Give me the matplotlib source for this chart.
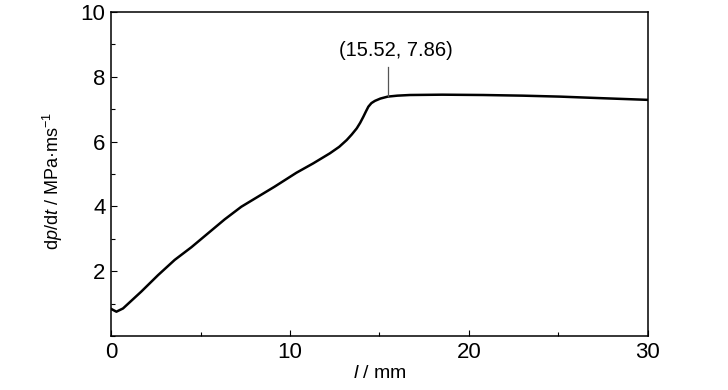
import matplotlib
matplotlib.use("Agg")
import matplotlib.pyplot as plt
from matplotlib.ticker import MultipleLocator

# values
length_mm = [0.0, 0.06, 0.30, 0.67, 1.69, 2.63, 3.56, 4.49, 5.42, 6.35, 7.28,
             8.21, 9.14, 10.36, 11.30, 12.23, 12.75, 13.17, 13.45, 13.73, 13.92,
             14.10, 14.25, 14.38, 14.55, 14.75, 15.05, 15.46, 16.0, 16.7, 18.5,
             20.8, 23.0, 25.1, 27.5, 30.0]
dpdt = [0.84, 0.82, 0.75, 0.85, 1.37, 1.88, 2.35, 2.74, 3.17, 3.60, 3.99,
        4.30, 4.61, 5.04, 5.33, 5.64, 5.84, 6.05, 6.22, 6.41, 6.58,
        6.77, 6.94, 7.08, 7.19, 7.26, 7.33, 7.39, 7.42, 7.44, 7.45,
        7.44, 7.42, 7.39, 7.34, 7.29]
peak_label = "(15.52, 7.86)"
peak_x = 15.47

plt.rcParams["font.family"] = ["Liberation Sans", "DejaVu Sans"]
plt.rcParams["mathtext.fontset"] = "custom"
plt.rcParams["mathtext.rm"] = "Liberation Sans"
plt.rcParams["mathtext.it"] = "Liberation Sans:italic"

fig = plt.figure(figsize=(7.28, 3.9), dpi=100)
ax = fig.add_axes([0.1525, 0.1385, 0.7375, 0.8305])

ax.plot(length_mm, dpdt, color="black", lw=1.8, solid_capstyle="round",
        solid_joinstyle="round")

# annotation marker line and text
ax.plot([peak_x, peak_x], [7.40, 8.3], color="#555555", lw=0.9)
ax.text(15.9, 8.8, peak_label, ha="center", va="center", fontsize=14.5)

ax.set_xlim(0, 30)
ax.set_ylim(0, 10)
ax.set_xticks([0, 10, 20, 30])
ax.set_yticks([2, 4, 6, 8, 10])
ax.xaxis.set_minor_locator(MultipleLocator(5))
ax.yaxis.set_minor_locator(MultipleLocator(1))

ax.tick_params(which="both", direction="in", labelsize=16, pad=4)
ax.tick_params(which="major", length=4, width=0.8)
ax.tick_params(which="minor", length=3, width=0.8)
for s in ax.spines.values():
    s.set_linewidth(1.1)

ax.set_xlabel(r"$\it{l}$ / mm", fontsize=14, labelpad=2)
ax.set_ylabel(r"d$\it{p}$/d$\it{t}$ / MPa·ms$^{-1}$", fontsize=13, labelpad=2)
ax.yaxis.set_label_coords(-0.085, 0.48)

fig.savefig("out.png", dpi=100)
